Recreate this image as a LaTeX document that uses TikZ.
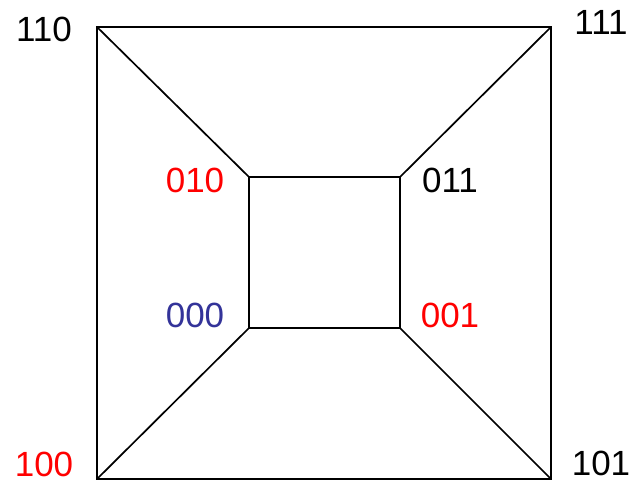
\documentclass[tikz,border=0pt]{standalone}
\usepackage{fontspec}
\setmainfont{Liberation Sans}
\definecolor{lblblue}{RGB}{51,51,153}
\begin{document}
\begin{tikzpicture}[x=1pt,y=-1pt,
  edge/.style={draw=black,line width=1.7pt,line cap=round,line join=miter},
  lbl/.style={inner sep=0pt,text depth=0pt,font=\fontsize{35}{35}\selectfont,anchor=base}]
\useasboundingbox (0,0) rectangle (632,481);
% vertices
\coordinate (v110) at (97,27);
\coordinate (v111) at (551,27);
\coordinate (v101) at (551,479);
\coordinate (v100) at (97,479);
\coordinate (v010) at (249,177);
\coordinate (v011) at (400,177);
\coordinate (v001) at (400,328);
\coordinate (v000) at (249,328);
% edges
\draw[edge] (v110) -- (v111) -- (v101) -- (v100) -- cycle;
\draw[edge] (v010) -- (v011) -- (v001) -- (v000) -- cycle;
\draw[edge] (v110) -- (v010);
\draw[edge] (v111) -- (v011);
\draw[edge] (v101) -- (v001);
\draw[edge] (v100) -- (v000);
% labels
\node[lbl] (l110) at (44,42) {110};
\node[lbl] (l111) at (601,35) {111};
\node[lbl,text=red] (l010) at (195,193) {010};
\node[lbl] (l011) at (450,193) {011};
\node[lbl,text=lblblue] (l000) at (195,327) {000};
\node[lbl,text=red] (l001) at (450,327) {001};
\node[lbl,text=red] (l100) at (44,476) {100};
\node[lbl] (l101) at (601,475) {101};
\end{tikzpicture}
\end{document}
